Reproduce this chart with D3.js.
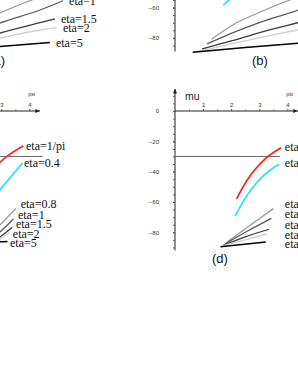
<!DOCTYPE html>
<html><head><meta charset="utf-8">
<script src="https://cdn.jsdelivr.net/npm/d3@7"></script>
<style>html,body{margin:0;padding:0;background:#fff;overflow:hidden}</style>
</head><body>
<svg id="chart" width="298" height="385"></svg>
<script>
// ---------- data ----------
const etaNames = ["eta=1/pi", "eta=0.4", "eta=0.8", "eta=1", "eta=1.5", "eta=2", "eta=5"];
const xTickValues = [1, 2, 3, 4];
const yTickValues = [0, -20, -40, -60, -80];
const panelNames = ["(a)", "(b)", "(c)", "(d)"];
const hLevel = -30;

// top row panels (a) and (b): [psi, mu]
const topRed   = [[1.95, -42], [2.4, -31], [3.0, -21], [3.7, -13]];
const topCyan  = [[1.72, -58.3], [1.95, -54.5], [2.5, -45], [3.0, -37], [3.6, -29]];
const topEta08 = [[1.30, -80.9], [2.1, -71], [2.95, -63.6], [4.09, -55], [5.0, -49]];
const topEta1  = [[1.14, -84], [2.0, -77], [2.95, -70.2], [4.38, -61.6], [5.2, -55.5]];
const topEta15 = [[0.96, -87.3], [2.0, -82], [2.95, -76.8], [4.38, -70], [4.91, -67.5]];
const topEta2  = [[0.78, -89], [2.0, -84], [2.95, -80.1], [4.38, -74.8], [4.98, -73.3]];
const topEta5  = [[0.63, -89.5], [2.5, -86.3], [4.73, -83.1]];

// panel (c)
const cRed   = [[1.9, -62], [2.3, -48], [2.7, -38.5], [3.2, -30], [3.78, -23.1]];
const cCyan  = [[1.9, -80], [2.4, -66], [2.95, -52.1], [3.4, -42], [3.76, -34.3]];
const cEta08 = [[2.4, -86], [2.95, -75.2], [3.52, -64.3]];
const cEta1  = [[2.4, -87], [2.95, -79.8], [3.43, -71.2]];
const cEta15 = [[2.4, -88], [2.95, -83.1], [3.38, -76.9]];
const cEta2  = [[2.4, -88.5], [2.95, -84.5], [3.29, -80.2]];
const cEta5  = [[2.4, -88.5], [2.95, -86.3], [3.22, -86.0]];
const cHEnd  = 4.47;
const cLabelPsi = [3.88, 3.81, 3.69, 3.59, 3.52, 3.41, 3.31];
const cLabelMu  = [-23.1, -34.3, -61.3, -68.4, -74.7, -80.7, -86.9];

// panel (d)
const dRed   = [[2.19, -58], [2.57, -45.5], [3.23, -31.2], [3.78, -24.2]];
const dCyan  = [[2.14, -69.3], [2.55, -56], [2.99, -45.5], [3.35, -39.5], [3.7, -35]];
const dEta08 = [[1.85, -86.5], [2.7, -75], [3.5, -64.4]];
const dEta1  = [[1.78, -87.7], [2.6, -79], [3.43, -70.8]];
const dEta15 = [[1.71, -88.7], [2.5, -83], [3.35, -78]];
const dEta2  = [[1.67, -89], [2.5, -85], [3.28, -81.1]];
const dEta5  = [[1.62, -89.5], [3.23, -86.4]];
const dHEnd  = 3.73;
const dLabelPsi = [3.91, 3.91, 3.91, 3.91, 3.91, 3.91, 3.91];
const dLabelMu  = [-23.5, -34.3, -61.4, -68, -74.8, -81.4, -87.8];

// ---------- styles ----------
const curveColors = ["#ff1a1a", "#12e6f2", "#9a9a9a", "#5a5a5a", "#3a3a3a", "#cfcfcf", "#000000"];
const curveWidths = [1.6, 1.6, 1.3, 1.3, 1.3, 1.3, 1.5];

const svg = d3.select("#chart");
const defs = svg.append("defs");
defs.append("marker").attr("id", "arr").attr("viewBox", "0 0 10 10")
  .attr("refX", 9).attr("refY", 5).attr("markerWidth", 5).attr("markerHeight", 5)
  .attr("orient", "auto-start-reverse")
  .append("path").attr("d", "M0,1 L10,5 L0,9 Z").attr("fill", "#222");

const pxPsi = 28.1, pxMu = 1.516;
const panels = [
  { name: panelNames[0], x0: -83, y0: -83.4, curves: [topRed, topCyan, topEta08, topEta1, topEta15, topEta2, topEta5], hEnd: 3.73, yMin: -89, labels: null, lab: [2.85, -94.6] },
  { name: panelNames[1], x0: 175, y0: -83.4, curves: [topRed, topCyan, topEta08, topEta1, topEta15, topEta2, topEta5], hEnd: 3.73, yMin: -89, labels: null, lab: [3.02, -94.6] },
  { name: panelNames[2], x0: -83, y0: 111, curves: [cRed, cCyan, cEta08, cEta1, cEta15, cEta2, cEta5], hEnd: cHEnd, yMin: -92, labels: [cLabelPsi, cLabelMu], lab: [1.6, -97.3] },
  { name: panelNames[3], x0: 175, y0: 111, curves: [dRed, dCyan, dEta08, dEta1, dEta15, dEta2, dEta5], hEnd: dHEnd, yMin: -92, labels: [dLabelPsi, dLabelMu], lab: [1.6, -97.3] }
];

const sans = "Liberation Sans, Arial, sans-serif";
const serif = "Liberation Serif, Times New Roman, serif";

panels.forEach(p => {
  const x = d3.scaleLinear().domain([0, 1]).range([p.x0, p.x0 + pxPsi]);
  const y = d3.scaleLinear().domain([0, -1]).range([p.y0, p.y0 + pxMu]);
  const g = svg.append("g");

  // axes lines with arrows
  g.append("line").attr("x1", x(0)).attr("x2", x(4.37)).attr("y1", y(0)).attr("y2", y(0))
    .attr("stroke", "#222").attr("stroke-width", 1).attr("marker-end", "url(#arr)");
  g.append("line").attr("x1", x(0)).attr("x2", x(0)).attr("y1", y(p.yMin)).attr("y2", y(14.5))
    .attr("stroke", "#222").attr("stroke-width", 1).attr("marker-end", "url(#arr)");

  // x ticks
  const xa = g.append("g").attr("transform", `translate(0,${y(0)})`)
    .call(d3.axisTop(x).tickValues(xTickValues).tickSize(2).tickPadding(2).tickFormat(d3.format("d")));
  xa.select(".domain").remove();
  xa.selectAll("text").attr("font-family", sans).attr("font-size", 6).attr("fill", "#333");
  xa.selectAll("line").attr("stroke", "#444");
  const xm = g.append("g").attr("transform", `translate(0,${y(0)})`)
    .call(d3.axisTop(x).tickValues(d3.range(0.5, 4.01, 1)).tickSize(1.5).tickFormat(""));
  xm.select(".domain").remove();
  xm.selectAll("line").attr("stroke", "#666");

  // y ticks
  const ya = g.append("g").attr("transform", `translate(${x(0)},0)`)
    .call(d3.axisLeft(y).tickValues(yTickValues).tickSize(2).tickPadding(14).tickFormat(d3.format("d")));
  ya.select(".domain").remove();
  ya.selectAll("text").attr("font-family", sans).attr("font-size", 6).attr("fill", "#333");
  ya.selectAll("line").attr("stroke", "#444");
  const ym = g.append("g").attr("transform", `translate(${x(0)},0)`)
    .call(d3.axisLeft(y).tickValues(d3.range(10, p.yMin, -5)).tickSize(2).tickFormat(""));
  ym.select(".domain").remove();
  ym.selectAll("line").attr("stroke", "#555");

  // axis titles
  g.append("text").attr("x", x(0) + 10).attr("y", y(0) - 11).text("mu")
    .attr("font-family", sans).attr("font-size", 10.5).attr("fill", "#222");
  g.append("text").attr("x", x(3.96)).attr("y", y(0) - 15).text("psi")
    .attr("font-family", sans).attr("font-size", 5.5).attr("fill", "#333");

  // horizontal reference line
  g.append("line").attr("x1", x(0)).attr("x2", x(p.hEnd)).attr("y1", y(hLevel)).attr("y2", y(hLevel))
    .attr("stroke", "#666").attr("stroke-width", 1);

  // curves
  const line = d3.line().x(d => x(d[0])).y(d => y(d[1])).curve(d3.curveMonotoneX);
  p.curves.forEach((c, i) => {
    g.append("path").attr("d", line(c)).attr("fill", "none")
      .attr("stroke", curveColors[i]).attr("stroke-width", curveWidths[i]);
    const end = c[c.length - 1];
    let lx, ly;
    if (p.labels) { lx = x(p.labels[0][i]); ly = y(p.labels[1][i]); }
    else { lx = x(end[0]) + 6; ly = y(end[1]); }
    g.append("text").attr("x", lx).attr("y", ly).attr("dy", "0.35em").text(etaNames[i])
      .attr("font-family", serif).attr("font-size", 12).attr("fill", "#111");
  });

  // panel label
  g.append("text").attr("x", x(p.lab[0])).attr("y", y(p.lab[1])).attr("dy", "0.35em")
    .attr("text-anchor", "middle").text(p.name)
    .attr("font-family", sans).attr("font-size", 13).attr("fill", "#111");
});

// drop texts that lie entirely outside the visible window
svg.selectAll("text").each(function () {
  const r = this.getBoundingClientRect();
  if (r.right <= 0 || r.bottom <= 0 || r.left >= 298 || r.top >= 385) d3.select(this).remove();
});
</script>
</body></html>
